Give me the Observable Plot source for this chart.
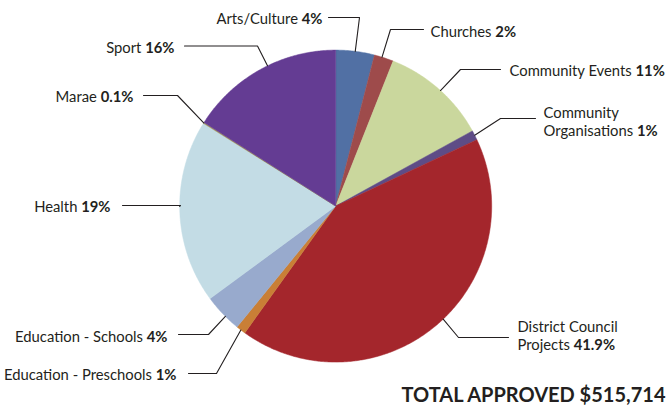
<!DOCTYPE html>
<html>
<head>
<meta charset="utf-8">
<script src="https://cdn.jsdelivr.net/npm/d3@7"></script>
<script src="https://cdn.jsdelivr.net/npm/@observablehq/plot@0.6"></script>
<style>
  html, body { margin: 0; padding: 0; background: #fff; overflow: hidden; }
  #chart svg { display: block; }
</style>
</head>
<body>
<div id="chart"></div>
<script>
// ---- data ----
const categories = ["Arts/Culture", "Churches", "Community Events", "Community Organisations",
  "District Council Projects", "Education - Preschools", "Education - Schools", "Health", "Marae", "Sport"];
const shares = [4, 2, 11, 1, 41.9, 1, 4, 19, 0.1, 16];
const shareLabels = ["4%", "2%", "11%", "1%", "41.9%", "1%", "4%", "19%", "0.1%", "16%"];
const labelNames = ["Arts/Culture", "Churches", "Community Events", "Community\nOrganisations",
  "District Council\nProjects", "Education - Preschools", "Education - Schools", "Health", "Marae", "Sport"];
const totalLabel = "TOTAL APPROVED $515,714";

// ---- styles / layout ----
const colors = ["#5170a4", "#9e4b4b", "#cad79d", "#5e4c86", "#a4262c", "#c97f36", "#98aacd", "#c3dce5", "#9f8f55", "#643c93"];
const W = 666, H = 412;
const cx = 335.2, cy = 205.6, R = 156;
// [anchor fraction within slice, elbow x, elbow y, end x, end y, text x, text y, text anchor]
const leaderLayout = [
  [0.5, 359, 17, 328, 17, 322, 18, "end"],
  [0.4, 390, 29, 423, 29, 430, 30.5, "start"],
  [0.52, 460, 69, 500, 69, 509, 69.5, "start"],
  [0.5, 500, 118, 535, 118, 543, 120.5, "start"],
  [0.475, 458, 337, 508, 337, 517, 334.5, "start"],
  [0.5, 216, 373, 188, 373, 176, 374, "end"],
  [0.4, 208, 334, 178, 334, 167, 335.5, "end"],
  [0.53, 180, 205, 122, 205, 110, 205.5, "end"],
  [0.5, 177, 95, 143, 95, 133, 95.5, "end"],
  [0.55, 257, 45.5, 184, 45.5, 174, 46.5, "end"]
];
const FONT = "Lato, 'Open Sans', sans-serif";
const TEXT_COLOR = "#231f20";

// ---- derived tables ----
const rows = categories.map((c, i) => ({cat: c, share: shares[i]}));
const arcs = d3.pie().sort(null).value(d => d.share)(rows);
const px = a => cx + R * Math.sin(a);
const py = a => cy - R * Math.cos(a);

const slicePoints = [];
arcs.forEach(a => {
  const cat = a.data.cat;
  const n = Math.max(2, Math.ceil((a.endAngle - a.startAngle) / 0.008));
  slicePoints.push({cat, x: cx, y: cy});
  for (let k = 0; k <= n; k++) {
    const ang = a.startAngle + (a.endAngle - a.startAngle) * k / n;
    slicePoints.push({cat, x: px(ang), y: py(ang)});
  }
  slicePoints.push({cat, x: cx, y: cy});
});

const leaderPoints = [];
const labelRows = [];
arcs.forEach((a, i) => {
  const [t, ex, ey, fx, fy, tx, ty, anchor] = leaderLayout[i];
  const ang = a.startAngle + (a.endAngle - a.startAngle) * t;
  const cat = a.data.cat;
  leaderPoints.push({cat, x: px(ang), y: py(ang)});
  leaderPoints.push({cat, x: ex, y: ey});
  leaderPoints.push({cat, x: fx, y: fy});
  labelRows.push({cat, x: tx, y: ty, anchor, label: labelNames[i] + " " + shareLabels[i]});
});

const plot = Plot.plot({
  width: W, height: H,
  margin: 0,
  x: {domain: [0, W], range: [0, W], axis: null},
  y: {domain: [0, H], range: [0, H], axis: null},
  color: {domain: categories, range: colors},
  style: {fontFamily: FONT, background: "#fff"},
  marks: [
    Plot.line(slicePoints, {x: "x", y: "y", z: "cat", fill: "cat", stroke: "cat", strokeWidth: 0.5, curve: "linear"}),
    Plot.line(leaderPoints, {x: "x", y: "y", z: "cat", stroke: TEXT_COLOR, strokeWidth: 1.1}),
    Plot.text(labelRows.filter(d => d.anchor === "end"), {x: "x", y: "y", text: "label", textAnchor: "end",
      lineAnchor: "middle", lineHeight: 1.22, fontSize: 14.8, fill: TEXT_COLOR, className: "slice-label"}),
    Plot.text(labelRows.filter(d => d.anchor === "start"), {x: "x", y: "y", text: "label", textAnchor: "start",
      lineAnchor: "middle", lineHeight: 1.22, fontSize: 14.8, fill: TEXT_COLOR, className: "slice-label"}),
    Plot.text([totalLabel], {x: () => 401, y: () => 395.5, text: d => d, textAnchor: "start", lineAnchor: "middle",
      fontSize: 20, fontWeight: "bold", fill: TEXT_COLOR})
  ]
});

// Make the percentage part of each label bold
plot.querySelectorAll(".slice-label text").forEach(textEl => {
  const tspans = textEl.querySelectorAll("tspan");
  const target = tspans.length ? tspans[tspans.length - 1] : textEl;
  const s = target.textContent;
  const i = s.lastIndexOf(" ");
  if (i < 0) return;
  target.textContent = s.slice(0, i + 1);
  const b = document.createElementNS("http://www.w3.org/2000/svg", "tspan");
  b.setAttribute("font-weight", "bold");
  b.textContent = s.slice(i + 1);
  target.appendChild(b);
});

document.getElementById("chart").appendChild(plot);
</script>
</body>
</html>
